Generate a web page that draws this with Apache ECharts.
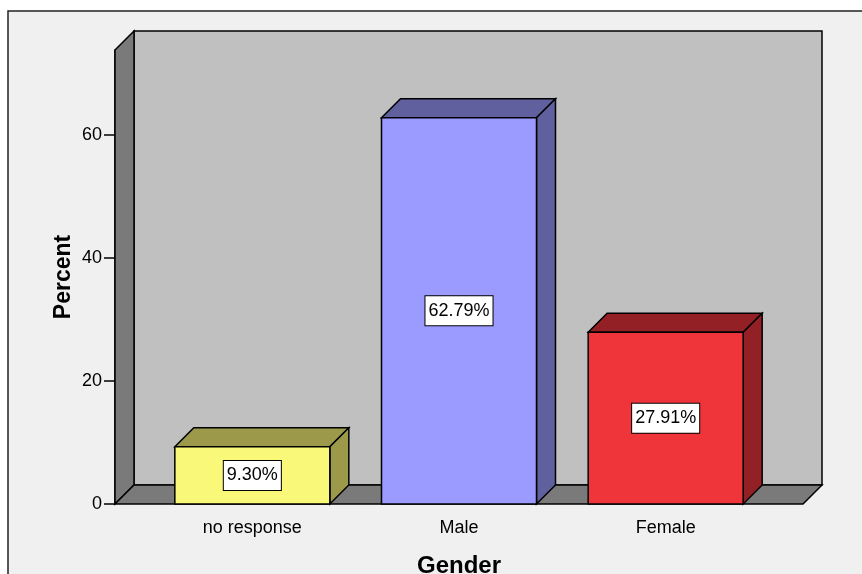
<!DOCTYPE html>
<html>
<head>
<meta charset="utf-8">
<script src="https://cdn.jsdelivr.net/npm/echarts@6.0.0/dist/echarts.min.js"></script>
<style>
  html, body { margin: 0; padding: 0; background: #fff; }
  #chart { width: 862px; height: 574px; }
</style>
</head>
<body>
<div id="chart"></div>
<script>
// 数据
var categories = ['no response', 'Male', 'Female'];
var percents = [9.30, 62.79, 27.91];
var yTicks = [0, 20, 40, 60];

// 颜色: 正面 / 侧面
var frontColors = ['#faf878', '#9a9aff', '#ef343a'];
var sideColors = ['#9c9a4a', '#60609f', '#922024'];

var DEPTH = 19;     // 3D 深度
var WALL_PAD = 34;  // 墙体超出网格的宽度
var FONT = '"Liberation Sans", Arial, sans-serif';

var myChart = echarts.init(document.getElementById('chart'));

// 背景墙、左墙、地板
function renderWalls(params, api) {
    var cs = params.coordSys;
    var d = DEPTH;
    var L = cs.x - WALL_PAD, R = cs.x + cs.width + WALL_PAD;
    var T = cs.y, B = cs.y + cs.height;
    var line = { stroke: '#000', lineWidth: 1.5 };
    return {
        type: 'group',
        children: [
            { type: 'rect', shape: { x: L + d, y: T - d, width: R - L, height: B - T },
              style: Object.assign({ fill: '#c0c0c0' }, line) },
            { type: 'polygon', shape: { points: [[L, T], [L + d, T - d], [L + d, B - d], [L, B]] },
              style: Object.assign({ fill: '#7a7a7a' }, line) },
            { type: 'polygon', shape: { points: [[L, B], [L + d, B - d], [R + d, B - d], [R, B]] },
              style: Object.assign({ fill: '#7a7a7a' }, line) }
        ]
    };
}

// 3D 柱子
function renderBar(params, api) {
    var i = api.value(0), v = api.value(1);
    var top = api.coord([i, v]);
    var base = api.coord([i, 0]);
    var w = api.size([1, 0])[0] * 0.75;
    var x0 = top[0] - w / 2, x1 = top[0] + w / 2;
    var yt = top[1], yb = base[1];
    var d = DEPTH;
    var line = { stroke: '#000', lineWidth: 1.5 };
    return {
        type: 'group',
        children: [
            { type: 'polygon', shape: { points: [[x0, yt], [x0 + d, yt - d], [x1 + d, yt - d], [x1, yt]] },
              style: Object.assign({ fill: sideColors[i] }, line) },
            { type: 'polygon', shape: { points: [[x1, yt], [x1 + d, yt - d], [x1 + d, yb - d], [x1, yb]] },
              style: Object.assign({ fill: sideColors[i] }, line) },
            { type: 'rect', shape: { x: x0, y: yt, width: w, height: yb - yt },
              style: Object.assign({ fill: frontColors[i] }, line) },
            { type: 'text', x: top[0], y: (yt + yb) / 2,
              style: {
                  text: v.toFixed(2) + '%', align: 'center', verticalAlign: 'middle',
                  fill: '#000', fontSize: 18, fontFamily: FONT,
                  backgroundColor: '#fff', borderColor: '#000', borderWidth: 1,
                  padding: [6, 3, 5, 3]
              } }
        ]
    };
}

var option = {
    backgroundColor: '#fff',
    animation: false,
    graphic: [{
        type: 'rect', z: -10, silent: true,
        shape: { x: 8, y: 11, width: 900, height: 600 },
        style: { fill: '#f0f0f0', stroke: '#222', lineWidth: 1.5 }
    }],
    grid: { left: 149, right: 93, top: 50, bottom: 70, outerBoundsMode: 'none', containLabel: false },
    xAxis: {
        type: 'category',
        data: categories,
        name: 'Gender',
        nameLocation: 'middle',
        nameGap: 50,
        nameMoveOverlap: false,
        nameTextStyle: { color: '#000', fontSize: 24, fontWeight: 'bold', fontFamily: FONT },
        axisLine: { show: false },
        axisTick: { alignWithLabel: true, length: 10, lineStyle: { color: '#000', width: 1.5 } },
        axisLabel: { color: '#000', fontSize: 18, fontFamily: FONT, margin: 15 }
    },
    yAxis: {
        type: 'value',
        min: 0,
        max: 73.8,
        offset: WALL_PAD,
        name: 'Percent',
        nameLocation: 'middle',
        nameGap: 40,
        nameMoveOverlap: false,
        nameTextStyle: { color: '#000', fontSize: 23, fontWeight: 'bold', fontFamily: FONT },
        axisLine: { show: true, lineStyle: { color: '#000', width: 1.5 } },
        axisTick: { show: true, length: 11, customValues: yTicks, lineStyle: { color: '#000', width: 1.5 } },
        axisLabel: { color: '#000', fontSize: 18, fontFamily: FONT, margin: 13, customValues: yTicks },
        splitLine: { show: false }
    },
    series: [{
        type: 'custom',
        renderItem: renderWalls,
        data: [[0, 0]],
        z: 1,
        silent: true
    }, {
        type: 'custom',
        renderItem: renderBar,
        data: percents.map(function (v, i) { return [i, v]; }),
        z: 2
    }]
};

myChart.setOption(option);
</script>
</body>
</html>
